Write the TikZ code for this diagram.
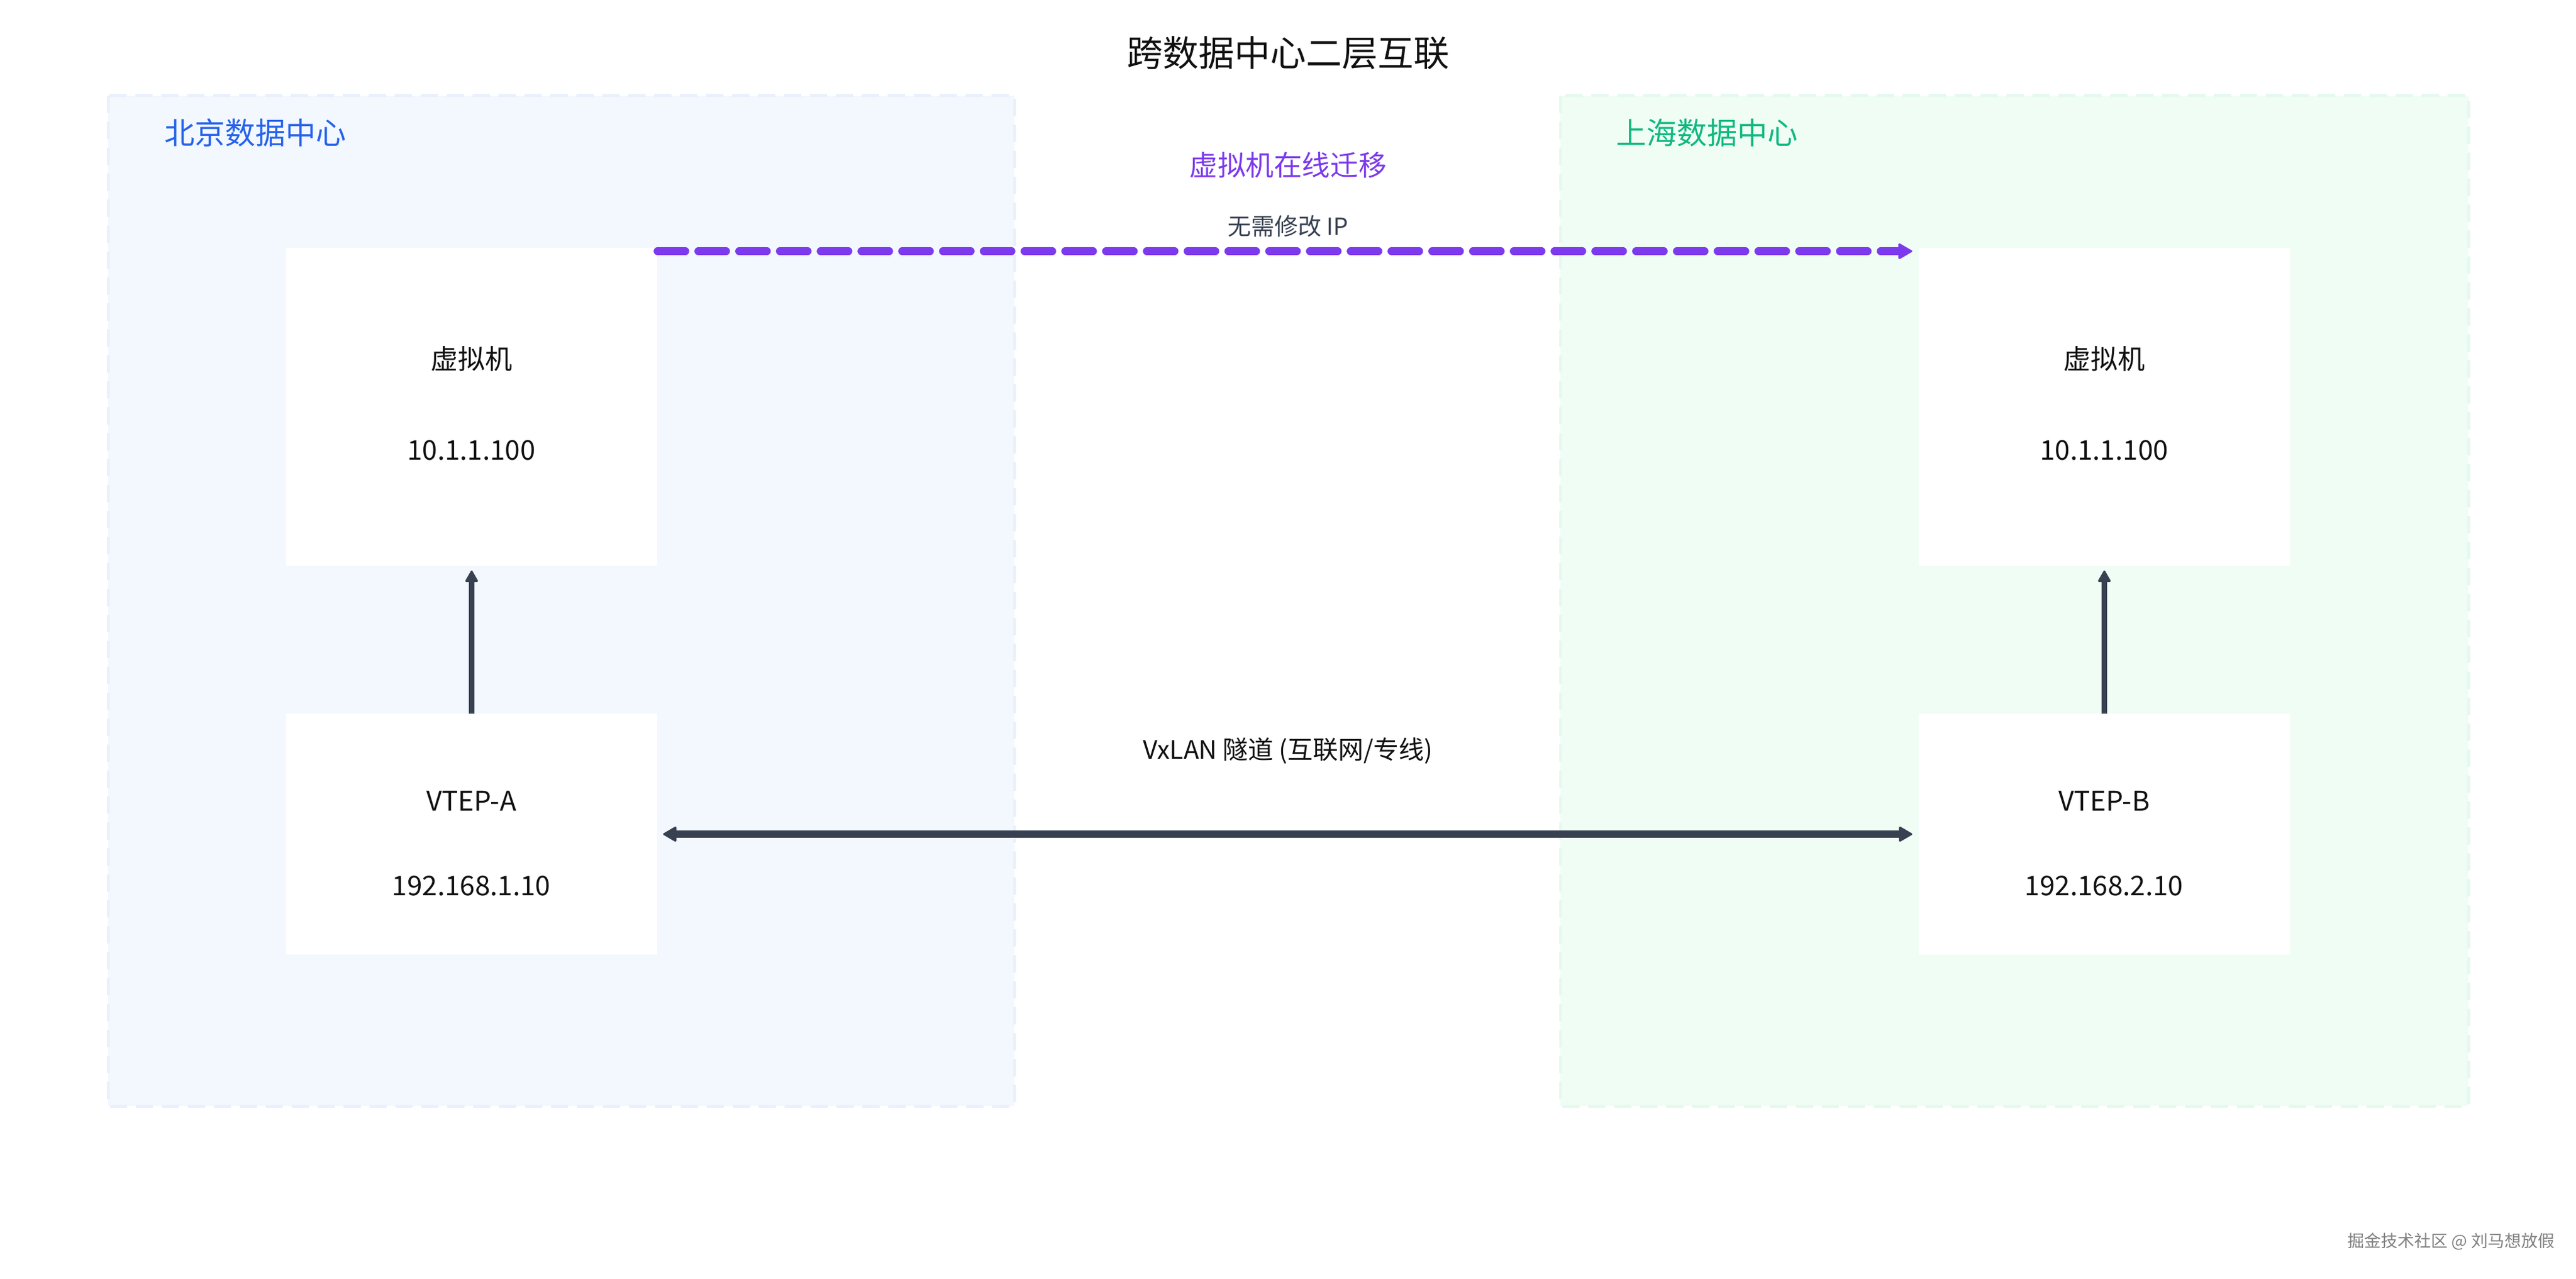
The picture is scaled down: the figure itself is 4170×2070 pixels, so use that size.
\documentclass[tikz,border=0pt]{standalone}
\usepackage{fontspec}
\setmainfont{Noto Sans CJK SC}
\usetikzlibrary{arrows.meta}
\definecolor{bjfill}{HTML}{F3F7FE}
\definecolor{bjline}{HTML}{EAF1FC}
\definecolor{shfill}{HTML}{F0FDF5}
\definecolor{shline}{HTML}{E6F9EE}
\definecolor{bjtext}{HTML}{2563EB}
\definecolor{shtext}{HTML}{10B981}
\definecolor{migr}{HTML}{7C3AED}
\definecolor{slate}{HTML}{374151}
\definecolor{txt}{HTML}{111111}
\tikzset{
  region/.style={line width=2.5pt, dash pattern=on 14pt off 7pt},
  box/.style={fill=white, draw=none, inner sep=0pt, minimum width=300.5pt},
  vmbox/.style={box, minimum height=257.5pt},
  vtepbox/.style={box, minimum height=195pt},
  boxtxt/.style={text=txt, font=\fontsize{22}{26}\selectfont, inner sep=0pt},
  dclabel/.style={font=\fontsize{24.5}{28}\selectfont, inner sep=0pt},
  uparrow/.style={draw=slate, line width=4.5pt,
    -{Triangle[length=10pt,width=11pt,round,line width=1.5pt]}, shorten >=3.5pt},
  tunnel/.style={draw=slate, line width=6.3pt,
    {Triangle[length=11.5pt,width=13pt,round,line width=1.5pt]}-{Triangle[length=11.5pt,width=13pt,round,line width=1.5pt]},
    shorten >=5pt, shorten <=4.5pt},
  migrate/.style={draw=migr, line width=6.3pt, line cap=round,
    dash pattern=on 22.5pt off 10.5pt,
    -{Triangle[length=12pt,width=13.5pt,round,line width=1.5pt]}, shorten >=5pt},
}
\begin{document}
\begin{tikzpicture}[x=0.5pt,y=-0.5pt]
\useasboundingbox[fill=white] (0,0) rectangle (4170,2070);

% regions
\draw[region, fill=bjfill, draw=bjline] (175,155) rectangle (1642,1790);
\draw[region, fill=shfill, draw=shline] (2526,155) rectangle (3996,1790);

% title
\node[text=txt, font=\fontsize{29}{33}\selectfont, inner sep=0pt] (title) at (2085,86) {跨数据中心二层互联};

% region labels
\node[dclabel, text=bjtext] (bjlabel) at (413,215) {北京数据中心};
\node[dclabel, text=shtext] (shlabel) at (2763,215) {上海数据中心};

% boxes
\node[vmbox] (vmA) at (763.5,658.5) {};
\node[vmbox] (vmB) at (3406.5,658.5) {};
\node[vtepbox] (vtepA) at (763.5,1350) {};
\node[vtepbox] (vtepB) at (3406.5,1350) {};

% box texts
\node[boxtxt] (vmAname) at (763,581) {虚拟机};
\node[boxtxt] (vmAip) at (763,729) {10.1.1.100};
\node[boxtxt] (vmBname) at (3406,581) {虚拟机};
\node[boxtxt] (vmBip) at (3406,729) {10.1.1.100};
\node[boxtxt] (vtepAname) at (763,1296) {VTEP-A};
\node[boxtxt] (vtepAip) at (763,1434) {192.168.1.10};
\node[boxtxt] (vtepBname) at (3406,1296) {VTEP-B};
\node[boxtxt] (vtepBip) at (3406,1434) {192.168.2.10};

% connectors
\draw[uparrow] (vtepA.north) -- (vmA.south);
\draw[uparrow] (vtepB.north) -- (vmB.south);
\draw[tunnel] (vtepA.east) -- (vtepB.west);
\draw[migrate] ([yshift=-3pt]vmA.north east) -- ([yshift=-3pt]vmB.north west);

% connector labels
\node[text=migr, font=\fontsize{22.8}{26}\selectfont, inner sep=0pt] (migrlabel) at (2085,267) {虚拟机在线迁移};
\node[text=slate, font=\fontsize{19}{22}\selectfont, inner sep=0pt] (iplabel) at (2085,366) {无需修改 IP};
\node[text=txt, font=\fontsize{20.5}{24}\selectfont, inner sep=0pt] (tunlabel) at (2085,1215) {VxLAN 隧道 (互联网/专线)};

% watermark
\node[text=black!50, font=\fontsize{13.5}{16}\selectfont, inner sep=0pt] (wm) at (3968,2009) {掘金技术社区 @ 刘马想放假};
\end{tikzpicture}
\end{document}
